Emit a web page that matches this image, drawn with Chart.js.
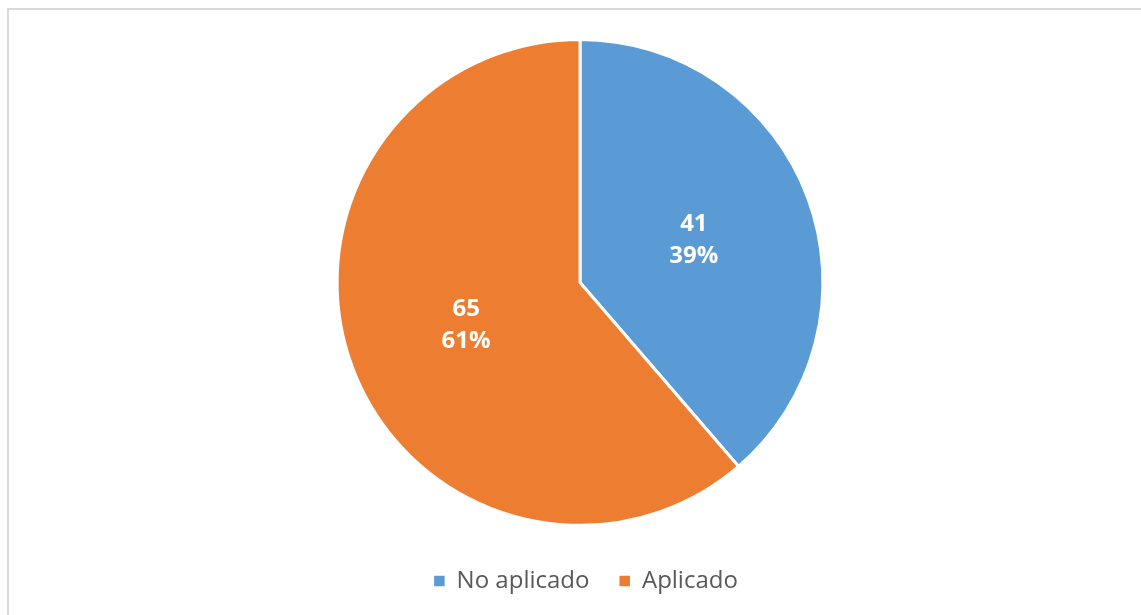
<!DOCTYPE html>
<html>
<head>
<meta charset="utf-8">
<script src="https://cdn.jsdelivr.net/npm/chart.js@4"></script>
<style>
  html, body { margin: 0; padding: 0; background: #fff; overflow: hidden; }
  #wrap { position: relative; width: 1141px; height: 615px; }
  #frame { position: absolute; left: 7px; top: 8px; width: 1150px; height: 620px;
           border-left: 2px solid #d9d9d9; border-top: 2px solid #d9d9d9; box-sizing: border-box; }
  canvas { position: absolute; left: 0; top: 0; }
</style>
</head>
<body>
<div id="wrap">
  <div id="frame"></div>
  <canvas id="pieChart" width="1141" height="615"></canvas>
</div>
<script>
const categories = ['No aplicado', 'Aplicado'];
const values = [41, 65];
const colors = ['#5B9BD5', '#ED7D31'];

// Value + percentage labels inside each slice
const sliceLabels = {
    id: 'sliceLabels',
    afterLayout(chart) {
        // legend sits a little right of the pie centre in the original
        chart.legend.left += 6;
        chart.legend.right += 6;
    },
    afterDatasetsDraw(chart) {
        const ctx = chart.ctx;
        const total = values.reduce((a, b) => a + b, 0);
        chart.getDatasetMeta(0).data.forEach((arc, i) => {
            const pos = arc.tooltipPosition();
            const pct = Math.round(values[i] / total * 100) + '%';
            ctx.save();
            ctx.fillStyle = '#ffffff';
            ctx.font = 'bold 24px "Open Sans", sans-serif';
            ctx.textAlign = 'center';
            ctx.textBaseline = 'middle';
            ctx.fillText(String(values[i]), pos.x, pos.y - 16);
            ctx.fillText(pct, pos.x, pos.y + 16.5);
            ctx.restore();
        });
    }
};

new Chart(document.getElementById('pieChart').getContext('2d'), {
    type: 'pie',
    data: {
        labels: categories,
        datasets: [{
            data: values,
            backgroundColor: colors,
            borderColor: '#ffffff',
            borderWidth: 3
        }]
    },
    options: {
        responsive: false,
        animation: false,
        layout: {
            padding: { top: 38, bottom: 12, left: 19, right: 0 }
        },
        plugins: {
            legend: {
                position: 'bottom',
                title: {
                    // empty title only used as spacer above the legend row
                    display: true,
                    text: ' ',
                    font: { size: 1 },
                    padding: { top: 11, bottom: 0 }
                },
                labels: {
                    boxWidth: 10.5,
                    boxHeight: 10.5,
                    padding: 30,
                    color: '#595959',
                    font: { family: '"Open Sans", sans-serif', size: 24 },
                    generateLabels(chart) {
                        const items = Chart.overrides.pie.plugins.legend.labels.generateLabels(chart);
                        items.forEach(it => { it.lineWidth = 0; it.strokeStyle = 'transparent'; });
                        return items;
                    }
                }
            },
            tooltip: { enabled: false }
        }
    },
    plugins: [sliceLabels]
});
</script>
</body>
</html>
